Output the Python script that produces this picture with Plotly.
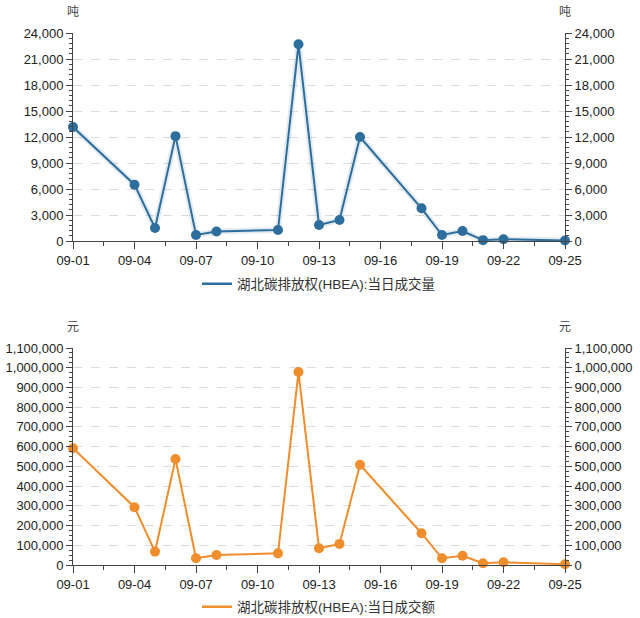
import plotly.graph_objects as go

dates = ['2023-09-01', '2023-09-04', '2023-09-05', '2023-09-06', '2023-09-07', '2023-09-08',
         '2023-09-11', '2023-09-12', '2023-09-13', '2023-09-14', '2023-09-15', '2023-09-18',
         '2023-09-19', '2023-09-20', '2023-09-21', '2023-09-22', '2023-09-25']
volume = [13150, 6500, 1500, 12100, 700, 1100, 1270, 22700, 1850, 2420, 12000, 3770,
          690, 1150, 100, 200, 50]
amount = [592000, 293000, 68000, 537000, 34000, 51000, 59000, 978000, 85000, 107000, 508000,
          161000, 34000, 47000, 9000, 14000, 4000]
name_vol = '湖北碳排放权(HBEA):当日成交量'
name_amt = '湖北碳排放权(HBEA):当日成交额'
unit_vol = '吨'
unit_amt = '元'

BLUE = '#2e6e9c'
ORANGE = '#f08d2c'
FONT = 'Liberation Sans, Arial, Noto Sans CJK SC, sans-serif'
DAY = 86400000

fig = go.Figure()
# soft glow under blue line
fig.add_trace(go.Scatter(x=dates, y=volume, xaxis='x', yaxis='y', mode='lines',
                         line=dict(color='rgba(46,110,156,0.13)', width=6),
                         showlegend=False, hoverinfo='skip', cliponaxis=False))
fig.add_trace(go.Scatter(x=dates, y=volume, xaxis='x', yaxis='y', mode='lines+markers',
                         name=name_vol, line=dict(color=BLUE, width=2),
                         marker=dict(size=10, color=BLUE), cliponaxis=False, showlegend=False))
fig.add_trace(go.Scatter(x=[None], y=[None], xaxis='x', yaxis='y', mode='lines',
                         name=name_vol, line=dict(color=BLUE, width=2.5), legend='legend'))
fig.add_trace(go.Scatter(x=dates, y=volume, xaxis='x', yaxis='y2', mode='lines',
                         line=dict(width=0), opacity=0, showlegend=False, hoverinfo='skip'))
fig.add_trace(go.Scatter(x=dates, y=amount, xaxis='x2', yaxis='y3', mode='lines+markers',
                         name=name_amt, line=dict(color=ORANGE, width=2),
                         marker=dict(size=10, color=ORANGE), cliponaxis=False, showlegend=False))
fig.add_trace(go.Scatter(x=[None], y=[None], xaxis='x2', yaxis='y3', mode='lines',
                         name=name_amt, line=dict(color=ORANGE, width=2.5), legend='legend2'))
fig.add_trace(go.Scatter(x=dates, y=amount, xaxis='x2', yaxis='y4', mode='lines',
                         line=dict(width=0), opacity=0, showlegend=False, hoverinfo='skip'))

H = 618.0
top_dom = [(H - 241) / H, (H - 33) / H]
bot_dom = [(H - 565) / H, (H - 348) / H]

xcommon = dict(type='date', range=['2023-09-01', '2023-09-25'], tick0='2023-09-01',
               dtick=3 * DAY, tickformat='%m-%d', showgrid=False, zeroline=False,
               showline=True, linecolor='#444', linewidth=1, ticks='outside',
               ticklen=7, tickcolor='#444', tickfont=dict(size=13, color='#222', family=FONT),
               minor=dict(dtick=1.5 * DAY, tick0='2023-09-01', ticks='outside', ticklen=4,
                          tickcolor='#444', showgrid=False))

ycommon = dict(showline=True, linecolor='#444', linewidth=1, ticks='outside', ticklen=6,
               tickcolor='#444', tickfont=dict(size=13, color='#222', family=FONT),
               zeroline=False, separatethousands=True, tickformat=',d')

fig.update_layout(
    width=640, height=618, margin=dict(l=73, r=75, t=0, b=0, autoexpand=False),
    paper_bgcolor='white', plot_bgcolor='white',
    font=dict(family=FONT, color='#333'),
    xaxis=dict(xcommon, domain=[0, 1], anchor='y'),
    xaxis2=dict(xcommon, domain=[0, 1], anchor='y3'),
    yaxis=dict(ycommon, domain=top_dom, range=[0, 24000], dtick=3000, anchor='x',
               showgrid=True, gridcolor='#dcdcdc', griddash='dash', gridwidth=1,
               minor=dict(dtick=600, ticks='outside', ticklen=3, tickcolor='#444', showgrid=False)),
    yaxis2=dict(ycommon, overlaying='y', side='right', range=[0, 24000], dtick=3000, anchor='x',
                showgrid=False,
                minor=dict(dtick=600, ticks='outside', ticklen=3, tickcolor='#444', showgrid=False)),
    yaxis3=dict(ycommon, domain=bot_dom, range=[0, 1100000], dtick=100000, anchor='x2',
                showgrid=True, gridcolor='#dcdcdc', griddash='dash', gridwidth=1,
                minor=dict(dtick=25000, ticks='outside', ticklen=3, tickcolor='#444', showgrid=False)),
    yaxis4=dict(ycommon, overlaying='y3', side='right', range=[0, 1100000], dtick=100000, anchor='x2',
                showgrid=False,
                minor=dict(dtick=25000, ticks='outside', ticklen=3, tickcolor='#444', showgrid=False)),
    legend=dict(x=0.5, y=(H - 284) / H, xanchor='center', yanchor='middle', orientation='h',
                font=dict(size=13.5, color='#333', family=FONT), bgcolor='rgba(0,0,0,0)'),
    legend2=dict(x=0.5, y=(H - 607) / H, xanchor='center', yanchor='middle', orientation='h',
                 font=dict(size=13.5, color='#333', family=FONT), bgcolor='rgba(0,0,0,0)'),
    annotations=[
        dict(text=unit_vol, x=0, y=(H - 12) / H, xref='paper', yref='paper', showarrow=False,
             xanchor='center', yanchor='middle', font=dict(size=12, color='#444', family=FONT)),
        dict(text=unit_vol, x=1, y=(H - 12) / H, xref='paper', yref='paper', showarrow=False,
             xanchor='center', yanchor='middle', font=dict(size=12, color='#444', family=FONT)),
        dict(text=unit_amt, x=0, y=(H - 327) / H, xref='paper', yref='paper', showarrow=False,
             xanchor='center', yanchor='middle', font=dict(size=12, color='#444', family=FONT)),
        dict(text=unit_amt, x=1, y=(H - 327) / H, xref='paper', yref='paper', showarrow=False,
             xanchor='center', yanchor='middle', font=dict(size=12, color='#444', family=FONT)),
    ],
)

fig.write_html('out.html', config={'displayModeBar': False},
               post_script="document.body.style.margin='0';")
